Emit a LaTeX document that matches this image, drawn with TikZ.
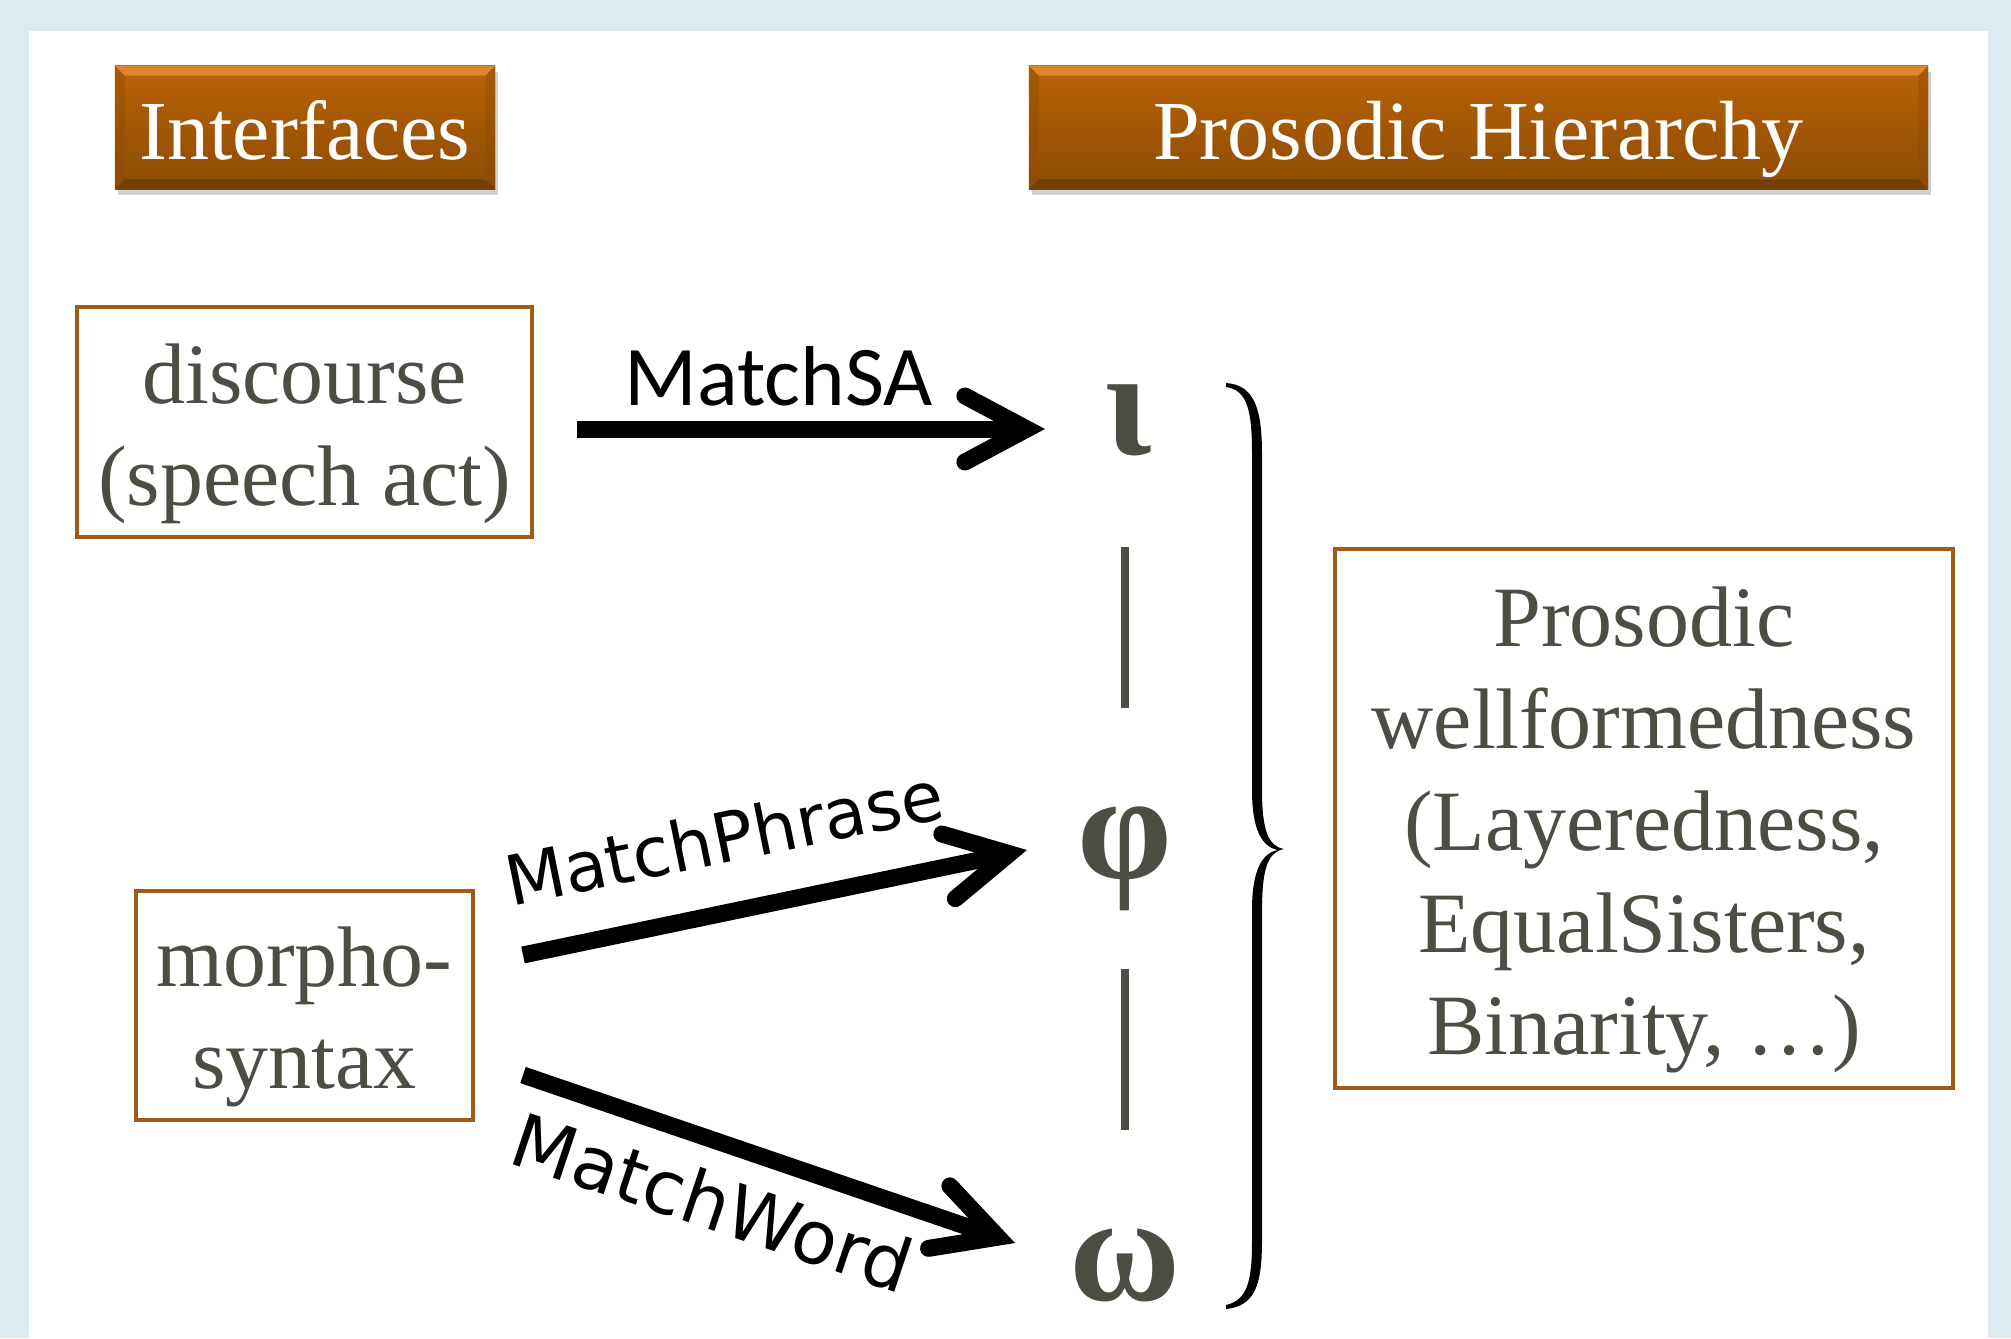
\documentclass[tikz,border=0pt]{standalone}
\usepackage{fontspec}
\setmainfont{Liberation Serif}
\newfontfamily\dejavu{DejaVu Sans}
\newfontfamily\carlito{Carlito}
\usetikzlibrary{arrows.meta,shadows,calc}
\definecolor{bgblue}{RGB}{221,235,240}
\definecolor{txtgray}{RGB}{77,77,68}
\definecolor{boxbrown}{RGB}{160,90,25}
\definecolor{hdrtop}{RGB}{186,99,6}
\definecolor{hdrbot}{RGB}{140,75,5}
\definecolor{bevlight}{RGB}{240,150,60}
\definecolor{bevdark}{RGB}{105,58,8}
\newcommand\gtxt[1]{\raisebox{-6pt}[\height][\depth]{\begin{tabular}{@{}c@{}}#1\end{tabular}}}
\begin{document}
\begin{tikzpicture}[x=0.5pt,y=-0.5pt,
  hdr/.style={top color=hdrtop, bottom color=hdrbot, draw=none, text=white,
    font=\fontsize{42}{50}\selectfont, inner sep=0pt, text height=32pt, text depth=0pt,
    drop shadow={shadow xshift=1.5pt,shadow yshift=-3pt,opacity=0.35}},
  gbox/.style={draw=boxbrown, line width=2.2pt, text=txtgray,
    font=\fontsize{43}{51}\selectfont, inner sep=0pt},
  greek/.style={text=txtgray, font=\bfseries\fontsize{76}{80}\selectfont, inner sep=0pt},
  arr/.style={line width=8.5pt, -{Straight Barb[length=31pt,width=33pt,line cap=round]}},
  vbar/.style={draw=txtgray, line width=4pt},
  sal/.style={font={\carlito\fontsize{42.5}{48}\selectfont}, inner sep=0pt},
  dvl/.style={font={\dejavu\fontsize{34.5}{40}\selectfont}, inner sep=0pt}
]
\useasboundingbox (0,0) rectangle (2011,1338);
\fill[bgblue] (0,0) rectangle (2011,1338);
\fill[white] (29,31) rectangle (1988,1338);

% headers
\node[hdr, minimum width=190pt, minimum height=61.5pt] (hI) at (305,127.5) {Interfaces};
\node[hdr, minimum width=449.5pt, minimum height=61.5pt] (hP) at (1478.5,127.5) {Prosodic Hierarchy};
\foreach \h in {hI,hP}{
  \fill[bevlight, opacity=0.7] (\h.north west) -- (\h.north east) -- ($(\h.north east)+(-10,10)$) -- ($(\h.north west)+(10,10)$) -- cycle;
  \fill[bevdark, opacity=0.7] (\h.south west) -- (\h.south east) -- ($(\h.south east)+(-10,-10)$) -- ($(\h.south west)+(10,-10)$) -- cycle;
  \fill[hdrbot, opacity=0.4] (\h.north west) -- ($(\h.north west)+(10,10)$) -- ($(\h.south west)+(10,-10)$) -- (\h.south west) -- cycle;
  \fill[hdrbot, opacity=0.4] (\h.north east) -- ($(\h.north east)+(-10,10)$) -- ($(\h.south east)+(-10,-10)$) -- (\h.south east) -- cycle;
}

% boxes
\node[gbox, minimum width=227.5pt, minimum height=115pt] (disc) at (304.5,422) {\gtxt{discourse\\(speech act)}};
\node[gbox, minimum width=168.5pt, minimum height=114.5pt] (morph) at (304.5,1005.5) {\gtxt{morpho-\\syntax}};
\node[gbox, minimum width=309pt, minimum height=269.5pt] (wf) at (1644,818.5)
  {\gtxt{Prosodic\\wellformedness\\(Layeredness,\\EqualSisters,\\Binarity, \dots)}};

% greek
\node[greek] (iota) at (1128,420) {ι};
\node[greek] (phi) at (1125,859) {φ};
\node[greek] (omega) at (1125,1265) {ω};

% vertical bars
\coordinate (b1t) at (1125,547); \coordinate (b1b) at (1125,708);
\coordinate (b2t) at (1125,969); \coordinate (b2b) at (1125,1130);
\draw[vbar] (b1t) -- (b1b);
\draw[vbar] (b2t) -- (b2b);

% brace
\fill[black] (1226,383) .. controls (1255,385) and (1262,410) .. (1262,455)
  -- (1262,790) .. controls (1262,830) and (1268,846) .. (1284,849)
  .. controls (1268,852) and (1262,868) .. (1262,910)
  -- (1262,1240) .. controls (1262,1285) and (1255,1306) .. (1226,1309)
  -- (1226,1305) .. controls (1248,1300) and (1252,1280) .. (1252,1240)
  -- (1252,910) .. controls (1252,870) and (1262,853) .. (1278,850)
  .. controls (1262,847) and (1252,830) .. (1252,790)
  -- (1252,455) .. controls (1252,412) and (1248,390) .. (1226,387) -- cycle;

% arrows
\coordinate (saS) at (577,429); \coordinate (saE) at (1045,429);
\coordinate (mpS) at (523,955); \coordinate (mpE) at (1027,850);
\coordinate (mwS) at (523,1075); \coordinate (mwE) at (1015,1243);
\draw[arr] (saS) -- (saE);
\draw[arr] (mpS) -- (mpE);
\draw[arr] (mwS) -- (mwE);

% labels
\node[sal, anchor=base] (lSA) at (779,405) {MatchSA};
\node[dvl, anchor=base, rotate=11.5] (lP) at (729,862) {MatchPhrase};
\node[dvl, anchor=base, rotate=-18.5, font={\dejavu\fontsize{37}{42}\selectfont}] (lW) at (704,1228) {MatchWord};
\end{tikzpicture}
\end{document}
